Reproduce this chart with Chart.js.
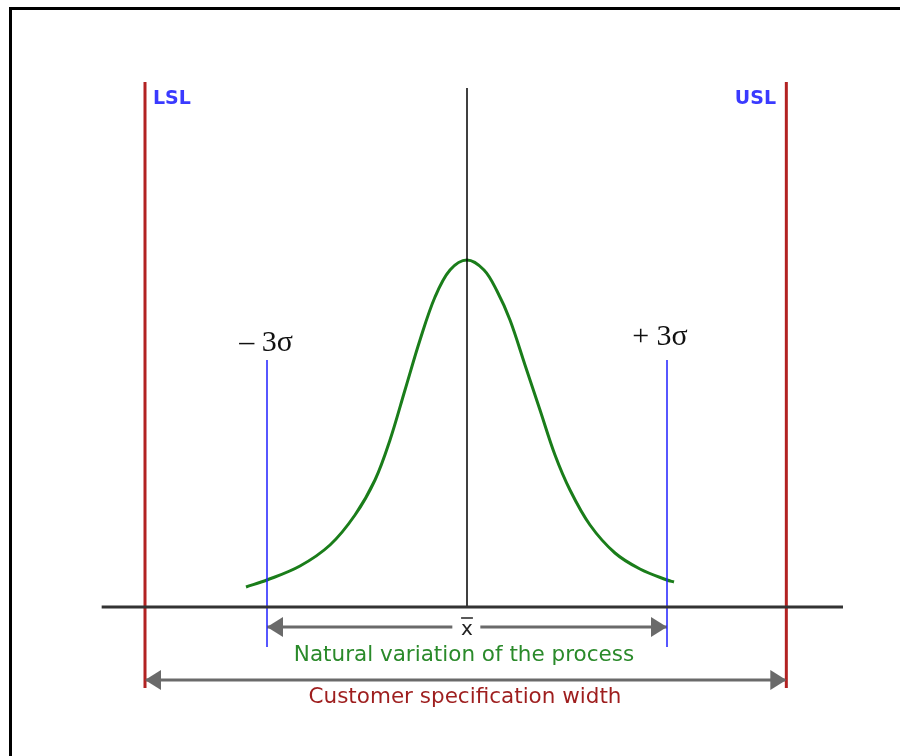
<!DOCTYPE html>
<html>
<head>
<meta charset="utf-8">
<script src="https://cdn.jsdelivr.net/npm/chart.js@4/dist/chart.umd.min.js"></script>
<style>
  html, body { margin: 0; padding: 0; background: #fff; }
  #wrap { position: relative; width: 900px; height: 756px; }
  #frame { position: absolute; left: 9px; top: 7px; right: 0; bottom: 0;
           border-top: 3px solid #000; border-left: 3px solid #000; pointer-events: none; }
</style>
</head>
<body>
<div id="wrap">
  <canvas id="chart" width="900" height="756"></canvas>
  <div id="frame"></div>
</div>
<script>
// process curve, x in sigma units, y = height above the axis line
const curveX = [-3.315, -3.0, -2.505, -2.055, -1.68, -1.38, -1.155, -0.93, -0.705, -0.48, -0.255, 0,
                0.255, 0.45, 0.645, 0.87, 1.095, 1.32, 1.545, 1.845, 2.22, 2.595, 3.0, 3.105];
const curveY = [20, 27, 41, 62, 92, 127, 167, 217, 267, 310, 337, 347,
                337, 316, 287, 242, 197, 152, 117, 82, 54, 38, 27, 25];

// reference lines
const specLimits = [-4.83, 4.79];      // LSL, USL
const sigmaLimits = [-3, 3];           // -3σ, +3σ
const meanX = 0;
const axisRange = [-5.48, 5.64];

// vertical extents of the lines
const specSpan = [-81, 525];
const sigmaSpan = [-40, 247];
const meanSpan = [0, 519];

// arrows
const naturalY = -20;
const specArrowY = -73;
const meanGap = [-0.22, 0.2];

const pts = (xs, ys) => xs.map((x, i) => ({ x: x, y: ys[i] }));
const vline = (x, span) => [{ x: x, y: span[0] }, { x: x, y: span[1] }];

const RED = '#b22222';
const BLUE = '#1f1fff';
const GREEN = '#1a7d1a';
const GREY = '#6a6a6a';

const labels = [
  { text: 'LSL', x: -4.71, y: 508, color: '#3a3aff', font: 'bold 19px "DejaVu Sans"', align: 'left' },
  { text: 'USL', x: 4.635, y: 508, color: '#3a3aff', font: 'bold 19px "DejaVu Sans"', align: 'right' },
  { text: '\u2013 3\u03c3', x: -3.015, y: 264, color: '#111', font: '30px "Liberation Serif"', align: 'center' },
  { text: '+ 3\u03c3', x: 2.895, y: 270, color: '#111', font: '30px "Liberation Serif"', align: 'center' },
  { text: 'x', x: meanX, y: naturalY - 3, color: '#222', font: '20px "DejaVu Sans"', align: 'center', bar: true },
  { text: 'Natural variation of the process', x: -0.045, y: -48, color: '#2a8a2a', font: '21.5px "DejaVu Sans"', align: 'center' },
  { text: 'Customer specification width', x: -0.03, y: -90, color: '#9e1e1e', font: '21.5px "DejaVu Sans"', align: 'center' }
];

const arrowPlugin = {
  id: 'arrowHeads',
  afterDatasetsDraw(chart) {
    const ctx = chart.ctx;
    chart.data.datasets.forEach((ds, i) => {
      if (!ds.arrow) return;
      const p = chart.getDatasetMeta(i).data;
      const ends = [];
      if (ds.arrow === 'start' || ds.arrow === 'both') ends.push([p[0], p[1]]);
      if (ds.arrow === 'end' || ds.arrow === 'both') ends.push([p[p.length - 1], p[p.length - 2]]);
      ctx.save();
      ctx.fillStyle = ds.borderColor;
      ends.forEach(([tip, from]) => {
        const dir = Math.sign(tip.x - from.x);
        ctx.beginPath();
        ctx.moveTo(tip.x, tip.y);
        ctx.lineTo(tip.x - dir * 16, tip.y - 10);
        ctx.lineTo(tip.x - dir * 16, tip.y + 10);
        ctx.closePath();
        ctx.fill();
      });
      ctx.restore();
    });
  }
};

const labelPlugin = {
  id: 'textLabels',
  afterDraw(chart) {
    const ctx = chart.ctx;
    const sx = chart.scales.x, sy = chart.scales.y;
    ctx.save();
    ctx.textBaseline = 'middle';
    labels.forEach(l => {
      const px = sx.getPixelForValue(l.x), py = sy.getPixelForValue(l.y);
      ctx.font = l.font;
      ctx.fillStyle = l.color;
      ctx.textAlign = l.align;
      ctx.fillText(l.text, px, py);
      if (l.bar) {
        const w = ctx.measureText(l.text).width;
        ctx.strokeStyle = l.color;
        ctx.lineWidth = 1.5;
        ctx.beginPath();
        ctx.moveTo(px - w / 2, py - 12);
        ctx.lineTo(px + w / 2, py - 12);
        ctx.stroke();
      }
    });
    ctx.restore();
  }
};

const line = (data, color, width, extra) => Object.assign({
  data: data, borderColor: color, borderWidth: width, pointRadius: 0, fill: false, tension: 0
}, extra || {});

new Chart(document.getElementById('chart'), {
  type: 'line',
  data: {
    datasets: [
      line([{ x: axisRange[0], y: 0 }, { x: axisRange[1], y: 0 }], '#333', 3),
      line(vline(meanX, meanSpan), '#000', 1.5),
      line(vline(specLimits[0], specSpan), RED, 3),
      line(vline(specLimits[1], specSpan), RED, 3),
      line(vline(sigmaLimits[0], sigmaSpan), BLUE, 1.5),
      line(vline(sigmaLimits[1], sigmaSpan), BLUE, 1.5),
      line(pts(curveX, curveY), GREEN, 3, { tension: 0.35 }),
      line([{ x: sigmaLimits[0], y: naturalY }, { x: meanGap[0], y: naturalY }], GREY, 3, { arrow: 'start' }),
      line([{ x: meanGap[1], y: naturalY }, { x: sigmaLimits[1], y: naturalY }], GREY, 3, { arrow: 'end' }),
      line([{ x: specLimits[0], y: specArrowY }, { x: specLimits[1], y: specArrowY }], GREY, 3, { arrow: 'both' })
    ]
  },
  options: {
    responsive: false,
    animation: false,
    layout: { padding: 0 },
    plugins: { legend: { display: false }, tooltip: { enabled: false } },
    scales: {
      x: { type: 'linear', min: -7.005, max: 6.495, display: false },
      y: { type: 'linear', min: -149, max: 607, display: false }
    }
  },
  plugins: [arrowPlugin, labelPlugin]
});
</script>
</body>
</html>
